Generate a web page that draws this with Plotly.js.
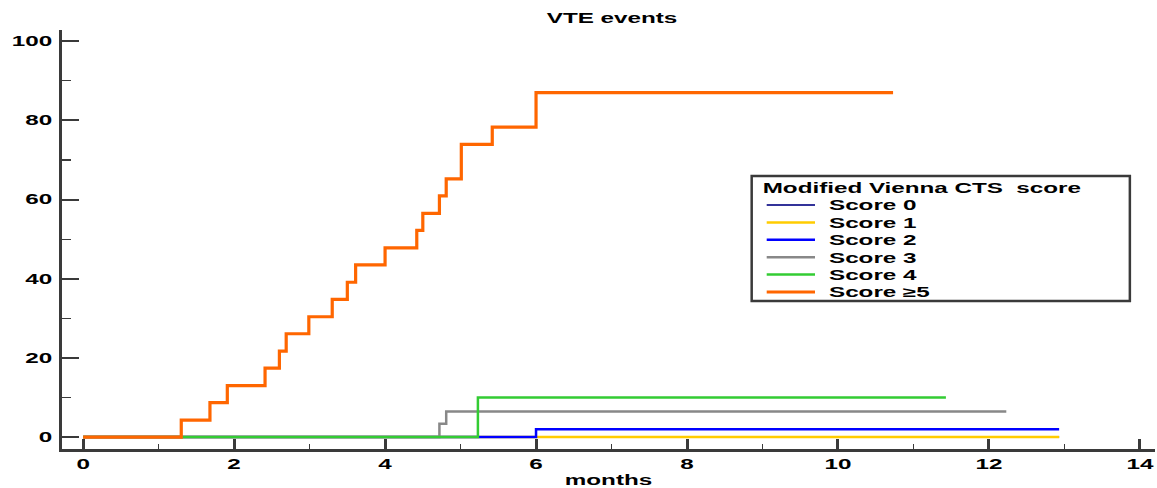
<!DOCTYPE html>
<html>
<head>
<meta charset="utf-8">
<script src="https://cdn.plot.ly/plotly-3.0.1.min.js"></script>
<style>html,body{margin:0;padding:0;background:#fff;}#chart{width:1157px;height:488px;}</style>
</head>
<body>
<div id="chart"></div>
<script>
// Series: time in months, cumulative VTE %
const seriesNames = ["Score 0", "Score 1", "Score 2", "Score 3", "Score 4", "Score \u22655"];
const score0Months = [0, 12.93];
const score0Values = [0, 0];
const score1Months = [0, 12.93];
const score1Values = [0, 0];
const score2Months = [0, 6.00, 12.93];
const score2Values = [0, 2.0, 2.0];
const score3Months = [0, 4.72, 4.81, 12.23];
const score3Values = [0, 3.4, 6.5, 6.5];
const score4Months = [0, 5.23, 11.43];
const score4Values = [0, 10.0, 10.0];
const score5Months = [0, 1.30, 1.68, 1.91, 2.41, 2.60, 2.69, 2.99, 3.30, 3.50, 3.61, 4.00, 4.42, 4.50, 4.72, 4.81, 5.01, 5.42, 6.00, 10.73];
const score5Values = [0, 4.3, 8.7, 13.0, 17.4, 21.7, 26.1, 30.4, 34.8, 39.1, 43.5, 47.8, 52.2, 56.5, 60.9, 65.2, 73.9, 78.3, 87.0, 87.0];
const xTickVals = [0, 2, 4, 6, 8, 10, 12, 14];
const yTickVals = [0, 20, 40, 60, 80, 100];

const colors = ["#333399", "#ffcc00", "#0000ff", "#888888", "#33cc33", "#ff6600"];
const widths = [2, 2.5, 2.5, 2.5, 2.5, 3.2];
const xs = [score0Months, score1Months, score2Months, score3Months, score4Months, score5Months];
const ys = [score0Values, score1Values, score2Values, score3Values, score4Values, score5Values];

const fontFam = "Liberation Sans, Arial, Helvetica, sans-serif";
const traces = seriesNames.map((n, i) => ({
  type: "scatter", mode: "lines", name: n,
  x: xs[i], y: ys[i],
  line: {shape: "hv", color: colors[i], width: widths[i]}
}));

const axisCommon = {
  showgrid: false, zeroline: false, showline: true, linecolor: "#3a3a3a", linewidth: 3,
  ticks: "inside", tickcolor: "#3a3a3a",
  tickfont: {family: fontFam, size: 14, color: "#000", weight: "bold"}
};

const layout = {
  width: 1157, height: 488,
  margin: {l: 62, r: 2, t: 30, b: 39},
  paper_bgcolor: "#fff", plot_bgcolor: "#fff",
  title: {text: "VTE events", x: 0.529, xanchor: "center", y: 0.963, yanchor: "middle",
          font: {family: fontFam, size: 14, color: "#000", weight: "bold"}},
  xaxis: Object.assign({}, axisCommon, {
    range: [-0.28, 14.2], tickvals: xTickVals, ticklen: 10, tickwidth: 3,
    minor: {dtick: 1, tick0: 0, ticks: "inside", ticklen: 5, tickwidth: 1.5, tickcolor: "#3a3a3a"},
    title: {text: "months", standoff: 7, font: {family: fontFam, size: 14, color: "#000", weight: "bold"}}
  }),
  yaxis: Object.assign({}, axisCommon, {
    range: [-3, 102.8], tickvals: yTickVals, ticklen: 17, tickwidth: 2,
    ticklabelstandoff: 4,
    minor: {dtick: 10, tick0: 0, ticks: "inside", ticklen: 9, tickwidth: 1.2, tickcolor: "#3a3a3a"}
  }),
  showlegend: true,
  legend: {
    x: 0.633, xanchor: "left", y: 0.648, yanchor: "top",
    bgcolor: "rgba(0,0,0,0)", borderwidth: 0,
    title: {text: "Modified Vienna CTS  score", font: {family: fontFam, size: 14, color: "#000", weight: "bold"}},
    font: {family: fontFam, size: 14, color: "#000", weight: "bold"},
    tracegroupgap: 0
  },
  shapes: [{
    type: "rect", xref: "paper", yref: "paper",
    x0: 0.631, x1: 0.977, y0: 0.353, y1: 0.6516,
    line: {color: "#3a3a3a", width: 2.5}, fillcolor: "rgba(0,0,0,0)", layer: "above"
  }]
};

const STRETCH = 1.73;
function stretchText(el, s) {
  const x = parseFloat(el.getAttribute("x")) || 0;
  const t = el.getAttribute("transform") || "";
  el.setAttribute("transform", t + " translate(" + x + ",0) scale(" + s + ",1) translate(" + (-x) + ",0)");
}

Plotly.newPlot("chart", traces, layout, {displayModeBar: false, staticPlot: true}).then(function (gd) {
  try {
    const leg = gd.querySelector("g.legend");
    if (leg) {
      leg.setAttribute("transform", "translate(752,175)");
      leg.querySelectorAll("[clip-path]").forEach(e => e.removeAttribute("clip-path"));
      const tt = leg.querySelector("text.legendtitletext");
      if (tt) {
        tt.removeAttribute("transform");
        tt.setAttribute("x", "10.7");
        tt.setAttribute("y", "18");
        tt.setAttribute("text-anchor", "start");
      }
      leg.querySelectorAll("g.traces").forEach((g, i) => {
        g.setAttribute("transform", "translate(0," + (30 + i * 17.4) + ")");
        g.querySelectorAll(".legendlines path").forEach(p => p.setAttribute("d", "M14.7,0h48.3"));
        const tx = g.querySelector("text.legendtext");
        if (tx) tx.setAttribute("x", "77");
      });
    }
    gd.querySelectorAll("text").forEach(el => {
      if (el.textContent.trim().length) stretchText(el, STRETCH);
    });
  } catch (e) { console.error(e); }
});
</script>
</body>
</html>
